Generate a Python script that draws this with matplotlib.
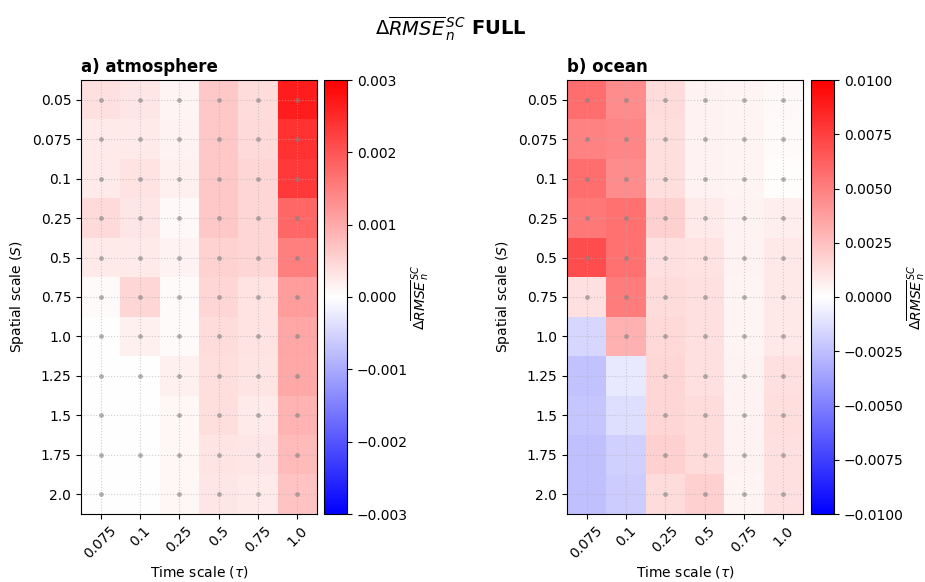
import matplotlib

matplotlib.use("Agg")
import matplotlib.pyplot as plt
import numpy as np

time_scales = ["0.075", "0.1", "0.25", "0.5", "0.75", "1.0"]
spatial_scales = ["0.05", "0.075", "0.1", "0.25", "0.5", "0.75",
                  "1.0", "1.25", "1.5", "1.75", "2.0"]

# delta RMSE, rows = spatial scale, cols = time scale (units of 1e-3)
atm_vals = [
    [0.36, 0.30, 0.12, 0.65, 0.42, 2.65],
    [0.24, 0.24, 0.15, 0.65, 0.44, 2.40],
    [0.24, 0.35, 0.18, 0.65, 0.47, 2.30],
    [0.44, 0.30, 0.08, 0.65, 0.47, 1.80],
    [0.24, 0.24, 0.15, 0.53, 0.47, 1.50],
    [0.06, 0.47, 0.06, 0.47, 0.35, 1.15],
    [0.00, 0.18, 0.06, 0.40, 0.35, 1.05],
    [0.00, 0.00, 0.18, 0.39, 0.32, 1.02],
    [0.00, 0.00, 0.10, 0.39, 0.24, 0.88],
    [0.00, 0.00, 0.10, 0.32, 0.30, 0.82],
    [0.00, 0.00, 0.10, 0.30, 0.24, 0.70],
]
ocean_vals = [
    [5.7, 4.5, 1.4, 0.5, 0.4, 0.3],
    [4.9, 4.7, 1.3, 0.5, 0.4, 0.2],
    [5.7, 4.5, 1.3, 0.5, 0.4, 0.1],
    [5.3, 5.5, 1.8, 0.8, 0.5, 0.7],
    [7.0, 5.5, 1.2, 1.1, 0.5, 0.9],
    [1.2, 5.1, 1.4, 1.2, 0.4, 0.9],
    [-1.6, 3.1, 1.5, 1.2, 0.4, 0.9],
    [-2.4, -0.9, 1.6, 1.2, 0.5, 1.2],
    [-2.2, -1.3, 1.6, 1.4, 0.5, 1.3],
    [-2.5, -1.8, 1.8, 1.4, 0.5, 1.2],
    [-2.5, -2.0, 1.4, 1.8, 0.4, 1.2],
]

# 1 = dot drawn in the cell
atm_sig = [
    [1, 1, 1, 1, 1, 1],
    [1, 1, 1, 1, 1, 1],
    [1, 1, 1, 1, 1, 1],
    [1, 1, 1, 1, 1, 1],
    [1, 1, 1, 1, 1, 1],
    [1, 1, 1, 1, 1, 1],
    [1, 1, 1, 1, 1, 1],
    [1, 1, 1, 1, 1, 1],
    [1, 0, 1, 1, 1, 1],
    [1, 1, 1, 1, 1, 1],
    [1, 0, 1, 1, 1, 1],
]
ocean_sig = [
    [1, 1, 1, 1, 1, 1],
    [1, 1, 1, 1, 1, 1],
    [1, 1, 1, 1, 1, 1],
    [1, 1, 1, 1, 1, 1],
    [1, 1, 1, 1, 1, 1],
    [1, 1, 1, 1, 1, 1],
    [0, 1, 1, 1, 1, 1],
    [0, 0, 1, 1, 1, 1],
    [0, 0, 1, 1, 1, 1],
    [0, 0, 1, 1, 1, 1],
    [0, 0, 1, 1, 1, 1],
]

panels = [
    ("a) atmosphere", np.array(atm_vals) * 1e-3, np.array(atm_sig), 0.003,
     [-0.003, -0.002, -0.001, 0.0, 0.001, 0.002, 0.003], "{:.3f}"),
    ("b) ocean", np.array(ocean_vals) * 1e-3, np.array(ocean_sig), 0.01,
     [-0.01, -0.0075, -0.005, -0.0025, 0.0, 0.0025, 0.005, 0.0075, 0.01], "{:.4f}"),
]

W, H = 925, 582
fig = plt.figure(figsize=(W / 100, H / 100), dpi=100)

ax_left = [81, 567]
cb_left = [324, 811]
top, bottom = 80, 514
label = r"$\Delta\overline{RMSE}_{\,n}^{\,SC}$"

for i, (title, vals, sig, vmax, cticks, fmt) in enumerate(panels):
    ax = fig.add_axes([ax_left[i] / W, (H - bottom) / H, 236 / W, (bottom - top) / H])
    cax = fig.add_axes([cb_left[i] / W, (H - bottom) / H, 23 / W, (bottom - top) / H])

    im = ax.imshow(vals, cmap="bwr", vmin=-vmax, vmax=vmax, aspect="auto",
                   interpolation="nearest")
    yy, xx = np.nonzero(sig)
    ax.scatter(xx, yy, s=12, c="gray", alpha=0.6, linewidths=0, zorder=3)

    ax.set_xticks(range(len(time_scales)))
    ax.set_xticklabels(time_scales, rotation=45)
    ax.set_yticks(range(len(spatial_scales)))
    ax.set_yticklabels(spatial_scales)
    ax.grid(True, linestyle=":", color="#b0b0b0", alpha=0.6, linewidth=0.8)
    ax.set_xlabel(r"Time scale ($\tau$)", labelpad=2)
    ax.set_ylabel(r"Spatial scale ($S$)")
    ax.set_title(title, loc="left", fontweight="bold", fontsize=12)

    cb = fig.colorbar(im, cax=cax)
    cb.set_ticks(cticks)
    cb.set_ticklabels([fmt.format(t).replace("-", "\u2212") for t in cticks])
    cb.set_label(label, labelpad=1)

fig.suptitle(r"$\Delta\overline{RMSE}_{\,n}^{\,SC}$ FULL", fontweight="bold",
             fontsize=14, x=0.488, y=0.975)

fig.savefig("out.png", dpi=100)
